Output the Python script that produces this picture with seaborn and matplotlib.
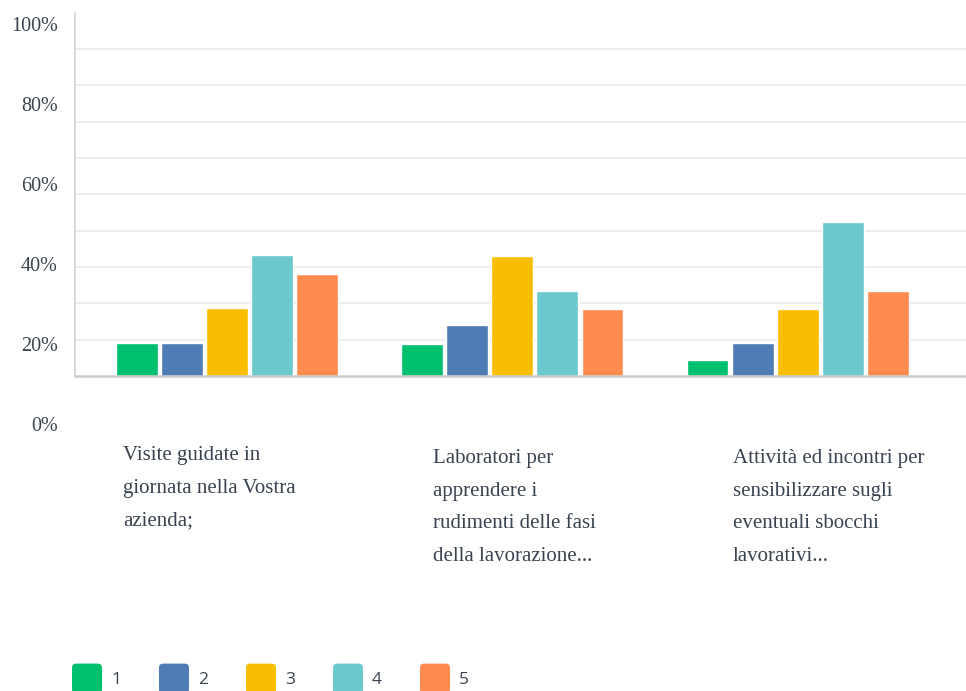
import matplotlib
matplotlib.use("Agg")
import matplotlib.pyplot as plt
from matplotlib.patches import FancyBboxPatch, Patch
from matplotlib.legend_handler import HandlerPatch
from matplotlib.ticker import FuncFormatter
import seaborn as sns
import pandas as pd

# ---- data ----
categories = [
    "Visite guidate in giornata nella Vostra azienda;",
    "Laboratori per apprendere i rudimenti delle fasi della lavorazione...",
    "Attività ed incontri per sensibilizzare sugli eventuali sbocchi lavorativi...",
]
category_lines = [
    ["Visite guidate in", "giornata nella Vostra", "azienda;"],
    ["Laboratori per", "apprendere i", "rudimenti delle fasi", "della lavorazione..."],
    ["Attività ed incontri per", "sensibilizzare sugli", "eventuali sbocchi", "lavorativi..."],
]
ratings = ["1", "2", "3", "4", "5"]
values_1 = [9.0, 8.9, 4.4]
values_2 = [9.0, 14.0, 9.0]
values_3 = [18.6, 33.1, 18.5]
values_4 = [33.2, 23.4, 42.4]
values_5 = [28.1, 18.5, 23.4]
ytick_values = [0, 20, 40, 60, 80, 100]

colors = ["#00bf6f", "#507cb6", "#f9be00", "#6bc8cd", "#ff8b4f"]
text_color = "#3a4350"

series = [values_1, values_2, values_3, values_4, values_5]
rows = []
for r, vals in zip(ratings, series):
    for c, v in zip(categories, vals):
        rows.append({"cat": c, "rating": r, "val": v})
df = pd.DataFrame(rows)

sns.set_theme(style="white")
plt.rcParams["font.family"] = ["Liberation Serif", "DejaVu Serif"]

W, H = 966, 691
fig = plt.figure(figsize=(W / 100, H / 100), dpi=100)

# main axes: 0 at y=376px, 100 at y=12.7px
ax = fig.add_axes([75 / W, (H - 376) / H, 1 - 75 / W, (376 - 12.7) / H])
sns.barplot(data=df, x="cat", y="val", hue="rating", order=categories,
            hue_order=ratings, palette=colors, width=0.79, gap=0.07,
            saturation=1, errorbar=None, legend=False, ax=ax)
ax.set_ylim(0, 100)
ax.set_xlim(-0.533, 2.59)
ax.set_yticks(range(10, 100, 10))
ax.yaxis.grid(True, color="#ececec", linewidth=1.3)
ax.set_axisbelow(True)
ax.tick_params(axis="y", left=False, labelleft=False)
ax.tick_params(axis="x", bottom=False, labelbottom=False)
ax.set_xlabel("")
ax.set_ylabel("")
for s in ["top", "right"]:
    ax.spines[s].set_visible(False)
ax.spines["left"].set_color("#d6d6d6")
ax.spines["left"].set_linewidth(1.3)
ax.spines["bottom"].set_color("#cccccc")
ax.spines["bottom"].set_linewidth(1.8)
ax.spines["bottom"].set_zorder(5)

# y labels axis (as in the reference, spaced differently from grid)
ax_lab = fig.add_axes([75 / W, (H - 424) / H, 0.0001, (424 - 24) / H])
ax_lab.set_ylim(0, 100)
ax_lab.set_yticks(ytick_values)
ax_lab.yaxis.set_major_formatter(FuncFormatter(lambda v, p: f"{int(v)}%"))
ax_lab.tick_params(axis="y", length=0, pad=12.5, labelsize=14.5, labelcolor=text_color)
ax_lab.set_xticks([])
ax_lab.patch.set_visible(False)
for s in ax_lab.spines.values():
    s.set_visible(False)

# category labels
label_x = [123, 433, 733]
label_top = [446, 449, 449]
for lines, lx, ly in zip(category_lines, label_x, label_top):
    fig.text(lx / W, 1 - ly / H, "\n".join(lines), ha="left", va="top",
             fontsize=15, color=text_color, linespacing=1.97)

# legend with rounded squares
SQ = 30 * 0.72  # square side in points


def rounded(legend, orig_handle, xdescent, ydescent, width, height, fontsize):
    cy = -ydescent + height / 2
    return FancyBboxPatch((-xdescent, cy - SQ / 2 - 0.5), width, SQ,
                          boxstyle="round,pad=0,rounding_size=3")


handles = [Patch(facecolor=c, edgecolor="none", label=r) for c, r in zip(colors, ratings)]
fs = 12.5
px = fs / 0.72
fig.legend(handles=handles, loc="center left",
           bbox_to_anchor=(72 / W, 1 - 679 / H), bbox_transform=fig.transFigure,
           ncol=5, frameon=False, borderpad=0, borderaxespad=0,
           handlelength=30 / px, handleheight=1.0, handletextpad=9 / px,
           columnspacing=38 / px,
           prop={"family": "Open Sans", "size": fs}, labelcolor=text_color,
           handler_map={Patch: HandlerPatch(patch_func=rounded)})

fig.savefig("out.png", dpi=100)
